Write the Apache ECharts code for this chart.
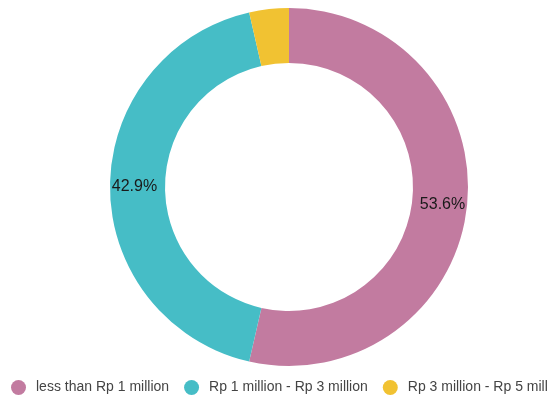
<!DOCTYPE html>
<html>
<head>
<meta charset="utf-8">
<script src="https://cdn.jsdelivr.net/npm/echarts@6/dist/echarts.min.js"></script>
<style>
  html, body { margin: 0; padding: 0; background: #ffffff; }
  #chart { width: 548px; height: 400px; }
</style>
</head>
<body>
<div id="chart"></div>
<script>
// Monthly income groups and number of respondents in each
const categories = ['less than Rp 1 million', 'Rp 1 million - Rp 3 million', 'Rp 3 million - Rp 5 million'];
const counts = [15, 12, 1];
const colors = ['#C27BA0', '#46BDC6', '#F1C232'];
// Slices whose share is below this are drawn without a percentage label
const minLabelPercent = 5;

const chart = echarts.init(document.getElementById('chart'), null, { renderer: 'canvas' });

chart.setOption({
  animation: false,
  color: colors,
  legend: {
    data: categories,
    orient: 'horizontal',
    left: 11,
    top: 380,
    width: 1000,
    padding: 0,
    icon: 'circle',
    itemWidth: 25,
    itemHeight: 15,
    itemGap: 15,
    textStyle: {
      fontFamily: 'Liberation Sans, Arial, sans-serif',
      fontSize: 14,
      color: '#444444'
    }
  },
  series: [{
    type: 'pie',
    center: [289, 187],
    radius: [124, 179],
    startAngle: 90,
    clockwise: true,
    avoidLabelOverlap: false,
    data: categories.map((name, i) => ({ name: name, value: counts[i] })),
    itemStyle: { borderWidth: 0 },
    label: {
      show: true,
      position: 'inside',
      fontFamily: 'Liberation Sans, Arial, sans-serif',
      fontSize: 16,
      color: '#1a1a1a',
      formatter: function (p) {
        return p.percent < minLabelPercent ? '' : p.percent.toFixed(1) + '%';
      }
    },
    labelLine: { show: false },
    emphasis: { disabled: true }
  }]
});
</script>
</body>
</html>
